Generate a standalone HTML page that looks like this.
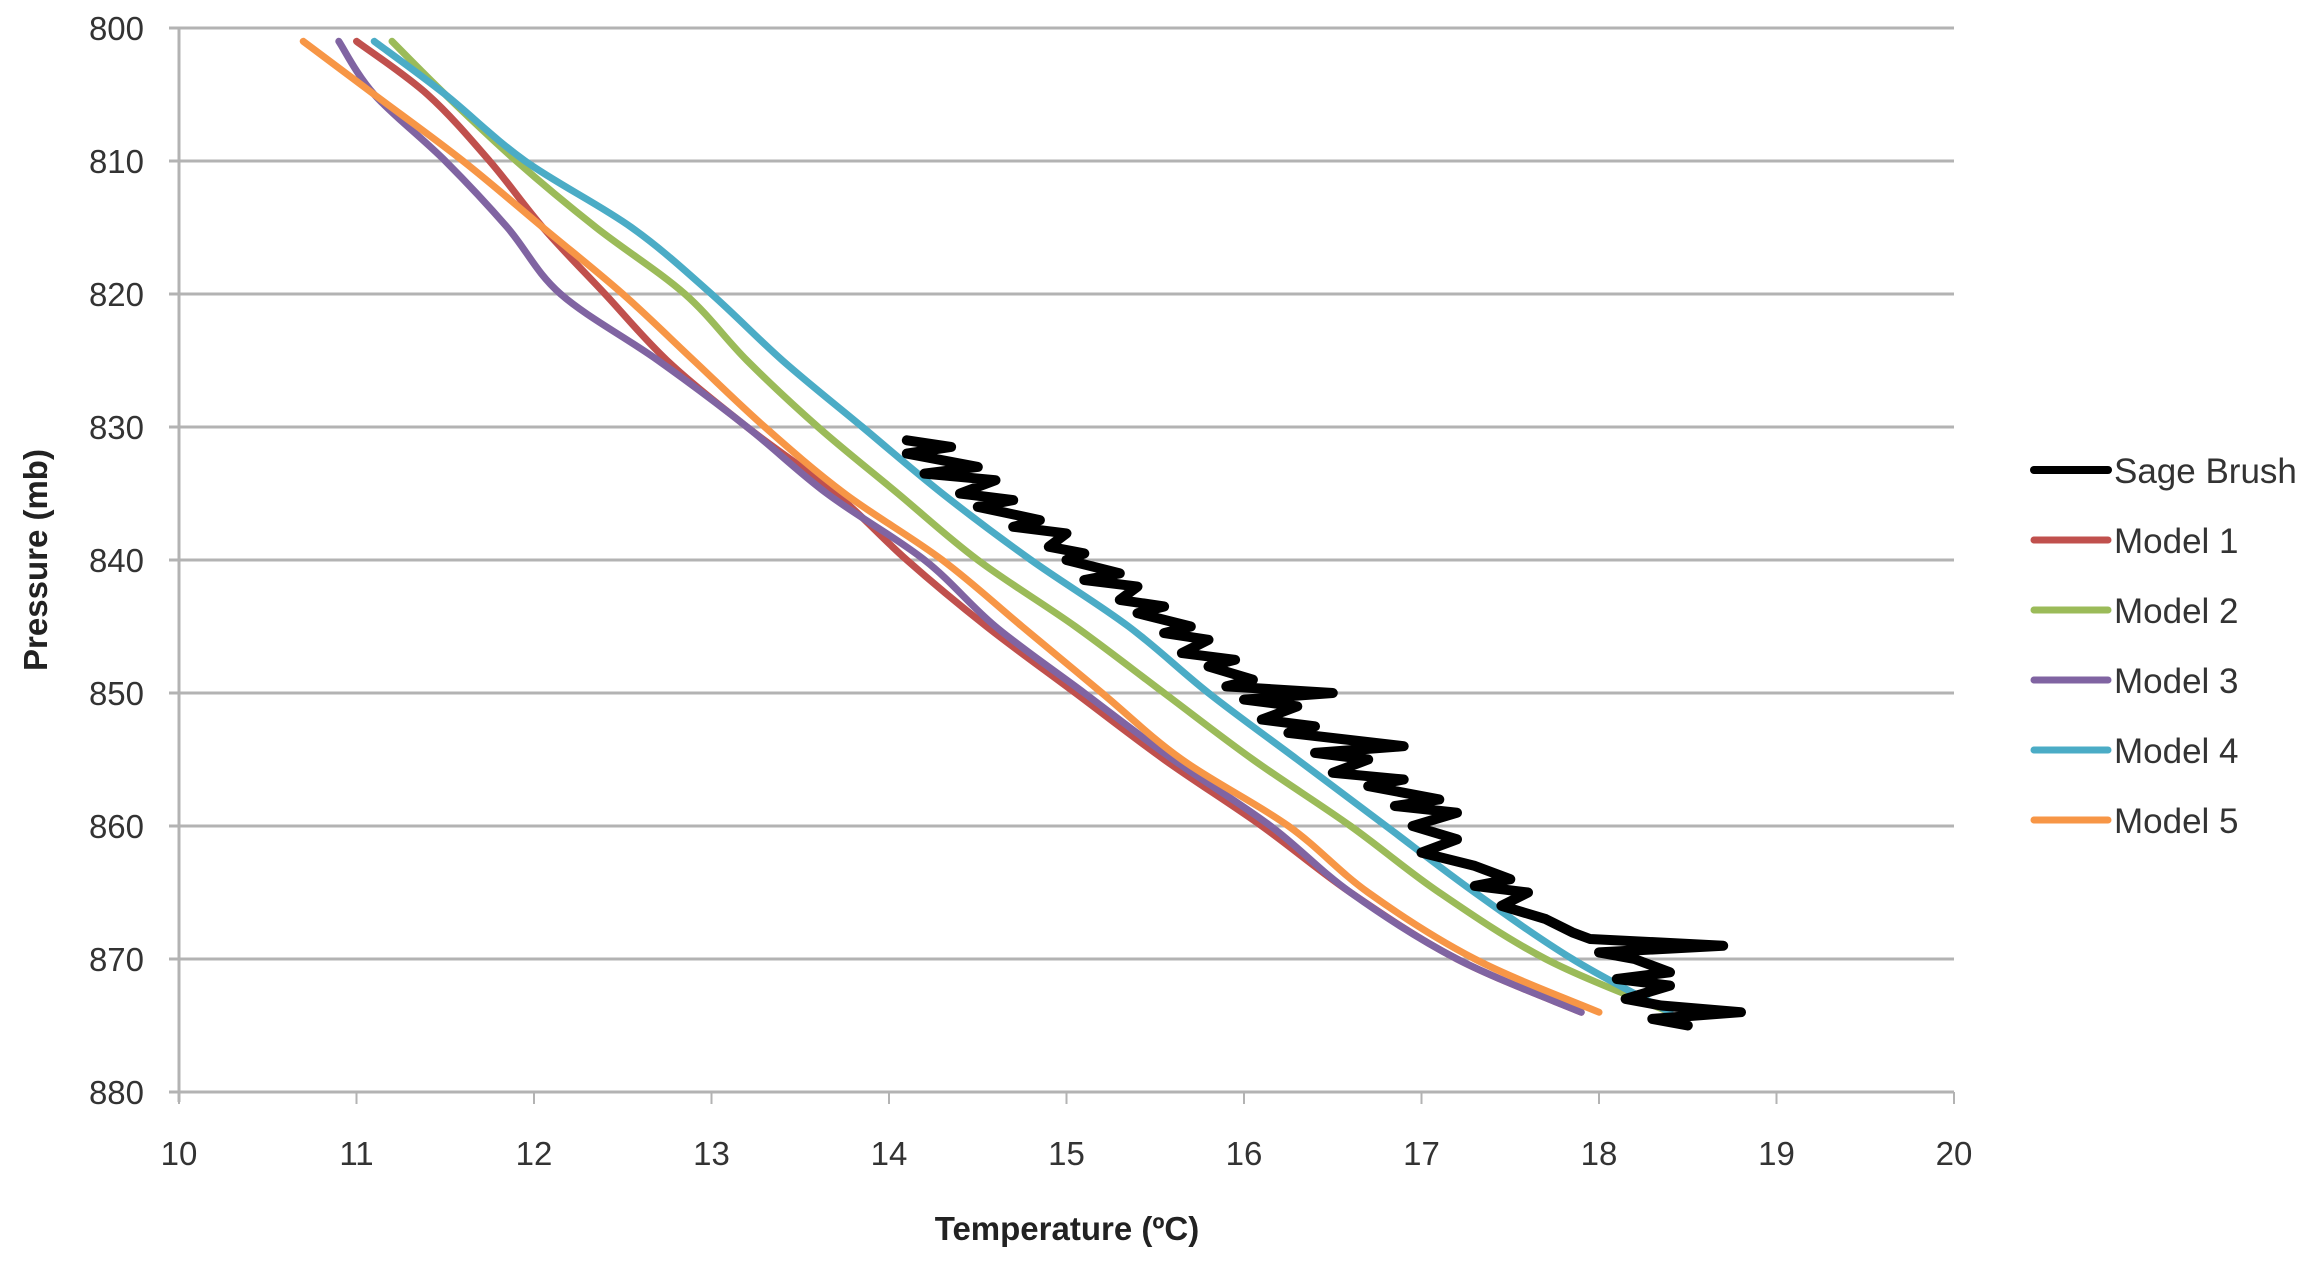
<!DOCTYPE html>
<html><head><meta charset="utf-8"><style>
html,body{margin:0;padding:0;background:#fff;}
svg{display:block;font-family:"Liberation Sans",sans-serif;}
</style></head><body>
<svg id="chart" width="2311" height="1276" viewBox="0 0 2311 1276">
<g id="grid"></g>
<g id="axes"></g>
<g id="series"></g>
<g id="legend"></g>
<text x="1067" y="1240" text-anchor="middle" font-size="33" font-weight="bold" fill="#222">Temperature (ºC)</text>
<text transform="translate(47,560) rotate(-90)" text-anchor="middle" font-size="33" font-weight="bold" fill="#222">Pressure (mb)</text>
</svg>
<script>
const xTicks=[10,11,12,13,14,15,16,17,18,19,20];
const yTicks=[800,810,820,830,840,850,860,870,880];
const seriesNames=["Sage Brush","Model 1","Model 2","Model 3","Model 4","Model 5"];
const seriesColors=["#000000","#c0504d","#9bbb59","#8064a2","#4bacc6","#f79646"];
const sagePressure=[831,831.5,832,833,833.5,834,835,835.5,836,837,837.5,838,839,839.5,840,841,841.5,842,843,843.5,844,845,845.5,846,847,847.5,848,849,849.5,850,850.5,851,852,852.5,853,854,854.5,855,856,856.5,857,858,858.5,859,860,861,862,863,864,864.5,865,866,867,868,868.5,869,869.5,870,871,871.5,872,873,873.5,874,874.5,875];
const sageTemp=[14.1,14.35,14.1,14.5,14.2,14.6,14.4,14.7,14.5,14.85,14.7,15.0,14.9,15.1,15.0,15.3,15.1,15.4,15.3,15.55,15.4,15.7,15.55,15.8,15.65,15.95,15.8,16.05,15.9,16.5,16.0,16.3,16.1,16.4,16.25,16.9,16.4,16.7,16.5,16.9,16.7,17.1,16.85,17.2,16.95,17.2,17.0,17.3,17.5,17.3,17.6,17.45,17.7,17.85,17.95,18.7,18.0,18.2,18.4,18.1,18.4,18.15,18.35,18.8,18.3,18.5];
const modelPressure=[801,805,810,815,820,825,830,835,840,845,850,855,860,865,870,874];
const model1Temp=[11.0,11.4,11.75,12.05,12.4,12.75,13.2,13.7,14.1,14.55,15.05,15.55,16.1,16.6,17.2,17.9];
const model2Temp=[11.2,11.5,11.9,12.35,12.85,13.2,13.6,14.05,14.5,15.05,15.55,16.05,16.6,17.1,17.7,18.4];
const model3Temp=[10.9,11.1,11.5,11.85,12.15,12.7,13.2,13.65,14.2,14.6,15.1,15.6,16.15,16.6,17.2,17.9];
const model4Temp=[11.1,11.5,11.95,12.55,13.0,13.4,13.85,14.3,14.8,15.35,15.8,16.3,16.8,17.3,17.85,18.4];
const model5Temp=[10.7,11.1,11.6,12.05,12.5,12.9,13.3,13.75,14.3,14.75,15.2,15.65,16.25,16.7,17.3,18.0];

const NS="http://www.w3.org/2000/svg";
const L=179,R=1954,T=28,B=1092;
const xs=v=>L+(v-10)/(20-10)*(R-L);
const ys=v=>T+(v-800)/(880-800)*(B-T);
function mk(tag,attrs,parent){const e=document.createElementNS(NS,tag);for(const k in attrs)e.setAttribute(k,attrs[k]);parent.appendChild(e);return e;}
const grid=document.getElementById('grid'),axes=document.getElementById('axes'),ser=document.getElementById('series'),leg=document.getElementById('legend');
yTicks.forEach(v=>{
 const g=mk('line',{x1:L-10,x2:R,y1:ys(v),y2:ys(v),stroke:'#b3b3b3','stroke-width':3},grid);
 
 
 const t=mk('text',{x:144,y:ys(v)+12,'text-anchor':'end','font-size':33,fill:'#333'},axes);
 t.textContent=v;
 
 
});
const ya=mk('line',{x1:L,x2:L,y1:T,y2:B+10,stroke:'#b3b3b3','stroke-width':3},axes);


xTicks.forEach(v=>{
 const tk=mk('line',{x1:xs(v),x2:xs(v),y1:B,y2:B+12,stroke:'#b3b3b3','stroke-width':2},axes);
 
 
 const t=mk('text',{x:xs(v),y:1165,'text-anchor':'middle','font-size':33,fill:'#333'},axes);
 t.textContent=v;
 
 
});
function smooth(pts){
 let d='M'+pts[0][0].toFixed(1)+','+pts[0][1].toFixed(1);
 for(let i=0;i<pts.length-1;i++){
  const p0=pts[Math.max(0,i-1)],p1=pts[i],p2=pts[i+1],p3=pts[Math.min(pts.length-1,i+2)];
  const c1=[p1[0]+(p2[0]-p0[0])/6,p1[1]+(p2[1]-p0[1])/6],c2=[p2[0]-(p3[0]-p1[0])/6,p2[1]-(p3[1]-p1[1])/6];
  d+=' C'+c1.map(v=>v.toFixed(1))+' '+c2.map(v=>v.toFixed(1))+' '+p2.map(v=>v.toFixed(1));
 }
 return d;
}
const temps=[sageTemp,model1Temp,model2Temp,model3Temp,model4Temp,model5Temp];
const press=[sagePressure,modelPressure,modelPressure,modelPressure,modelPressure,modelPressure];
const order=[1,2,3,5,4,0];
order.forEach(i=>{
 const pts=temps[i].map((t,j)=>[xs(t),ys(press[i][j])]);
 const d=i===0?pts.map((p,j)=>(j?'L':'M')+p[0].toFixed(1)+','+p[1].toFixed(1)).join(' '):smooth(pts);
 const p=mk('path',{d:d,fill:'none',stroke:seriesColors[i],'stroke-width':i===0?10:7,'stroke-linejoin':'round','stroke-linecap':'round'},ser);
 
 
});
seriesNames.forEach((n,i)=>{
 const y=470+i*70;
 const l=mk('line',{x1:2034,x2:2108,y1:y,y2:y,stroke:seriesColors[i],'stroke-width':i===0?8:7,'stroke-linecap':'round'},leg);
 
 
 const t=mk('text',{x:2114,y:y+13,'font-size':35,fill:'#333'},leg);
 t.textContent=n;
 
 
});
</script>
</body></html>
